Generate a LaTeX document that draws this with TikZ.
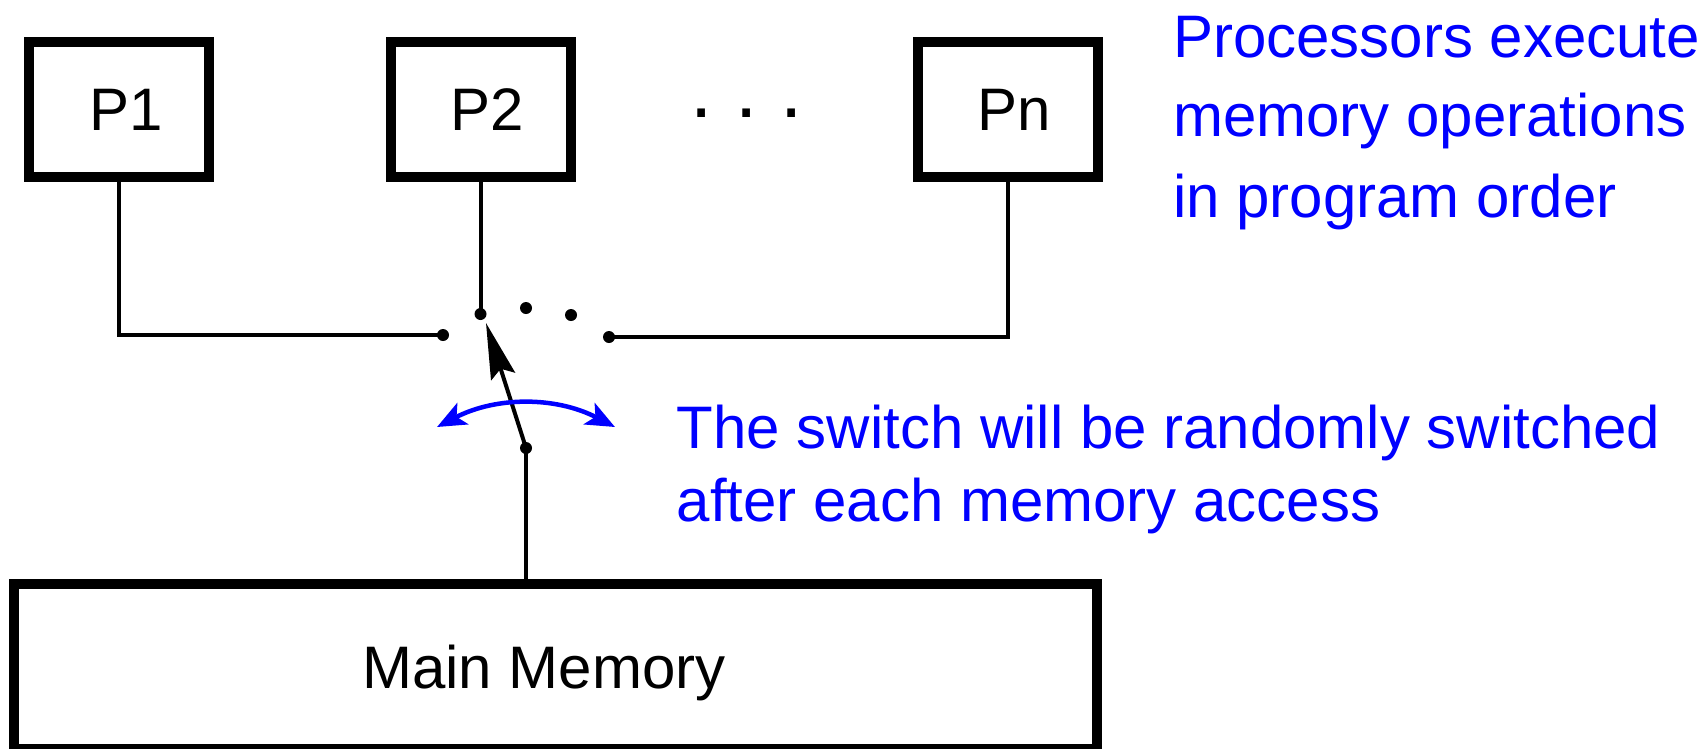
\documentclass[tikz,border=0pt]{standalone}
\usepackage{fontspec}
\setmainfont{Liberation Sans}
\usetikzlibrary{arrows.meta}
\begin{document}
\begin{tikzpicture}[x=1pt,y=-1pt,
  big/.style={font=\fontsize{60pt}{72pt}\selectfont},
  pbox/.style={draw, line width=10pt, minimum width=180pt, minimum height=135pt,
    inner sep=0pt, text depth=0pt, big, execute at begin node={\hspace*{14pt}}},
  membox/.style={draw, line width=10pt, minimum width=1083pt, minimum height=165pt,
    inner sep=0pt, text depth=0pt, big, execute at begin node={\hspace*{-24pt}}},
  wire/.style={line width=4pt},
  dot/.style={circle, fill=black, inner sep=0pt, minimum size=12pt},
  note/.style={big, text=blue, anchor=base west, inner sep=0pt},
  swing/.style={line width=4.5pt, draw=blue,
    {Stealth[length=29pt,width=24pt,inset=7pt]}-{Stealth[length=29pt,width=24pt,inset=7pt]}},
  lever/.style={line width=4pt, -{Stealth[length=56pt,width=25pt,inset=8pt]}}
]
\useasboundingbox (0,0) rectangle (1708,748);

% processors
\node[pbox] (p1) at (119.3,109.8) {P1};
\node[pbox] (p2) at (480.5,109.8) {P2};
\node[pbox] (pn) at (1007.5,109.8) {Pn};
\node[font=\fontsize{80pt}{90pt}\selectfont, anchor=base, inner sep=0pt] (ell) at (747,117.3) {.\hspace{22.8pt}.\hspace{22.8pt}.};

% main memory
\node[membox] (mem) at (555.8,666.5) {Main Memory};

% switch contacts
\node[dot] (s1) at (443,335) {};
\node[dot] (s2) at (480.5,314) {};
\node[dot] (s3) at (526,308) {};
\node[dot] (s4) at (571,315) {};
\node[dot] (sn) at (609,337) {};
\node[dot] (piv) at (526,448) {};
\coordinate (tip) at (486,323);
\coordinate (aL) at (437,427);
\coordinate (aR) at (615,427);

% wires
\draw[wire] (p1.south) |- (s1.center);
\draw[wire] (p2.south) -- (s2.center);
\draw[wire] (sn.center) -| (pn.south);
\draw[wire] (piv.center) -- (piv.center |- mem.north);
\draw[lever] (piv.center) -- (tip);

% swing arrow
\draw[swing] (aL) .. controls (496.3,396.3) and (555.7,396.3) .. (aR);

% notes
\node[note] (n1a) at (1173,57.3) {Processors execute};
\node[note] (n1b) at (1173,136.7) {memory operations};
\node[note] (n1c) at (1173,217.3) {in program order};
\node[note] (n2a) at (676.5,448.3) {The switch will be randomly switched};
\node[note] (n2b) at (676.5,521.7) {after each memory access};
\end{tikzpicture}
\end{document}
